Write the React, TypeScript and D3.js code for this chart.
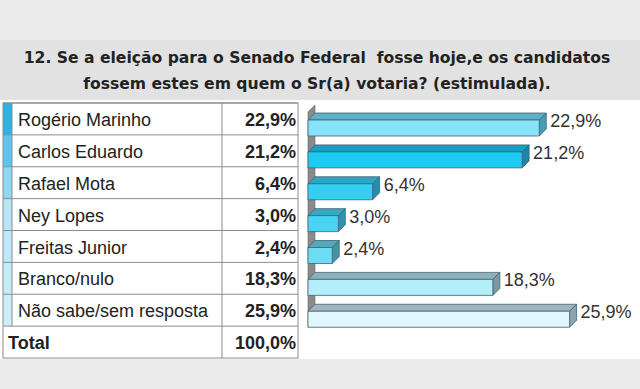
import React from 'react';
import * as d3 from 'd3';

const titleLines = [
  '12. Se a eleição para o Senado Federal  fosse hoje,e os candidatos',
  'fossem estes em quem o Sr(a) votaria? (estimulada).',
];
const candidates = [
  'Rogério Marinho',
  'Carlos Eduardo',
  'Rafael Mota',
  'Ney Lopes',
  'Freitas Junior',
  'Branco/nulo',
  'Não sabe/sem resposta',
];
const values = [22.9, 21.2, 6.4, 3.0, 2.4, 18.3, 25.9];
const valueLabels = ['22,9%', '21,2%', '6,4%', '3,0%', '2,4%', '18,3%', '25,9%'];
const totalLabel = 'Total';
const totalValue = '100,0%';

// front / top / side shades for each bar
const frontColors = ['#86e3fa', '#1ccaf2', '#36cff3', '#48d5f4', '#6edbf5', '#b3eefb', '#e2f7fd'];
const topColors = ['#5fb0c8', '#1a9fc4', '#2aa6c6', '#35a9c4', '#55a8bd', '#8fb0ba', '#a0b6be'];
const sideColors = ['#4a9ab2', '#1788aa', '#238fab', '#2d93ad', '#4793a6', '#7c9aa4', '#8ea4ac'];
const stripeColors = ['#2ab4e6', '#5ec6ee', '#8fd8f3', '#b8e6f7', '#bfe9f8', '#c6ecf8', '#cdeef9'];

const W = 640;
const H = 389;
const depth = 7;

export default function App() {
  const rows = [...candidates, totalLabel];
  const y = d3.scaleBand<string>().domain(rows).range([103, 358]).padding(0);
  const x = d3.scaleLinear().domain([0, 30]).range([308, 611]);
  const rh = y.bandwidth();

  const tableLeft = 3;
  const stripeRight = 12;
  const nameRight = 222;
  const tableRight = 298;

  const font = "'Liberation Sans', Arial, sans-serif";

  const wallTop = (y(candidates[0]) as number) + 2;
  const wallBottom = (y(candidates[candidates.length - 1]) as number) + 17 + 16;

  return (
    <svg
      width={W}
      height={H}
      viewBox={`0 0 ${W} ${H}`}
      style={{ position: 'absolute', left: 0, top: 0, display: 'block' }}
    >
      <rect x={0} y={0} width={W} height={H} fill="#ececec" />
      <rect x={0} y={40} width={W} height={60} fill="#e2e2e2" />
      {titleLines.map((t, i) => (
        <text
          key={i}
          x={317}
          y={63 + i * 26}
          textAnchor="middle"
          fontFamily="'DejaVu Sans', sans-serif"
          fontWeight="bold"
          fontSize={15.6}
          fill="#222"
          style={{ whiteSpace: 'pre' }}
        >
          {t}
        </text>
      ))}

      {/* white panel */}
      <rect x={0} y={100} width={W} height={259} fill="#ffffff" />

      {/* table */}
      {candidates.map((c, i) => (
        <rect
          key={c}
          x={tableLeft}
          y={y(c)}
          width={stripeRight - tableLeft}
          height={rh}
          fill={stripeColors[i]}
        />
      ))}
      {rows.map((r, i) => {
        const ty = y(r) as number;
        const isTotal = r === totalLabel;
        return (
          <g key={r}>
            <line x1={tableLeft} x2={tableRight} y1={ty} y2={ty} stroke="#8c8c8c" strokeWidth={1} />
            <text
              x={isTotal ? tableLeft + 5 : stripeRight + 6}
              y={ty + 23}
              fontFamily={font}
              fontSize={18}
              fontWeight={isTotal ? 'bold' : 'normal'}
              fill="#222"
            >
              {r}
            </text>
            <text
              x={tableRight - 2}
              y={ty + 23}
              textAnchor="end"
              fontFamily={font}
              fontSize={18}
              fontWeight="bold"
              fill="#222"
            >
              {isTotal ? totalValue : valueLabels[i]}
            </text>
          </g>
        );
      })}
      <rect
        x={tableLeft}
        y={103}
        width={tableRight - tableLeft}
        height={255}
        fill="none"
        stroke="#8c8c8c"
        strokeWidth={1}
      />
      <line x1={stripeRight} x2={stripeRight} y1={103} y2={y(totalLabel)} stroke="#8c8c8c" />
      <line x1={nameRight} x2={nameRight} y1={103} y2={358} stroke="#8c8c8c" />

      {/* left wall of the 3D chart */}
      <polygon
        points={`${x(0)},${wallTop + depth} ${x(0) + depth},${wallTop} ${x(0) + depth},${wallBottom - depth} ${x(0)},${wallBottom}`}
        fill="#8a8a8a"
        stroke="#666"
        strokeWidth={0.6}
      />

      {/* bars */}
      {candidates.map((c, i) => {
        const fy = (y(c) as number) + 17;
        const fh = 16;
        const x0 = x(0);
        const x1 = x(values[i]);
        const top = `${x0},${fy} ${x0 + depth},${fy - depth} ${x1 + depth},${fy - depth} ${x1},${fy}`;
        const side = `${x1},${fy} ${x1 + depth},${fy - depth} ${x1 + depth},${fy + fh - depth} ${x1},${fy + fh}`;
        return (
          <g key={c} stroke="#3f6470" strokeWidth={0.8} strokeLinejoin="round">
            <polygon points={top} fill={topColors[i]} />
            <polygon points={side} fill={sideColors[i]} />
            <rect x={x0} y={fy} width={x1 - x0} height={fh} fill={frontColors[i]} />
            <text
              x={x1 + depth + 4}
              y={fy + 7}
              fontFamily={font}
              fontSize={18}
              fill="#333"
              stroke="none"
            >
              {valueLabels[i]}
            </text>
          </g>
        );
      })}
    </svg>
  );
}
